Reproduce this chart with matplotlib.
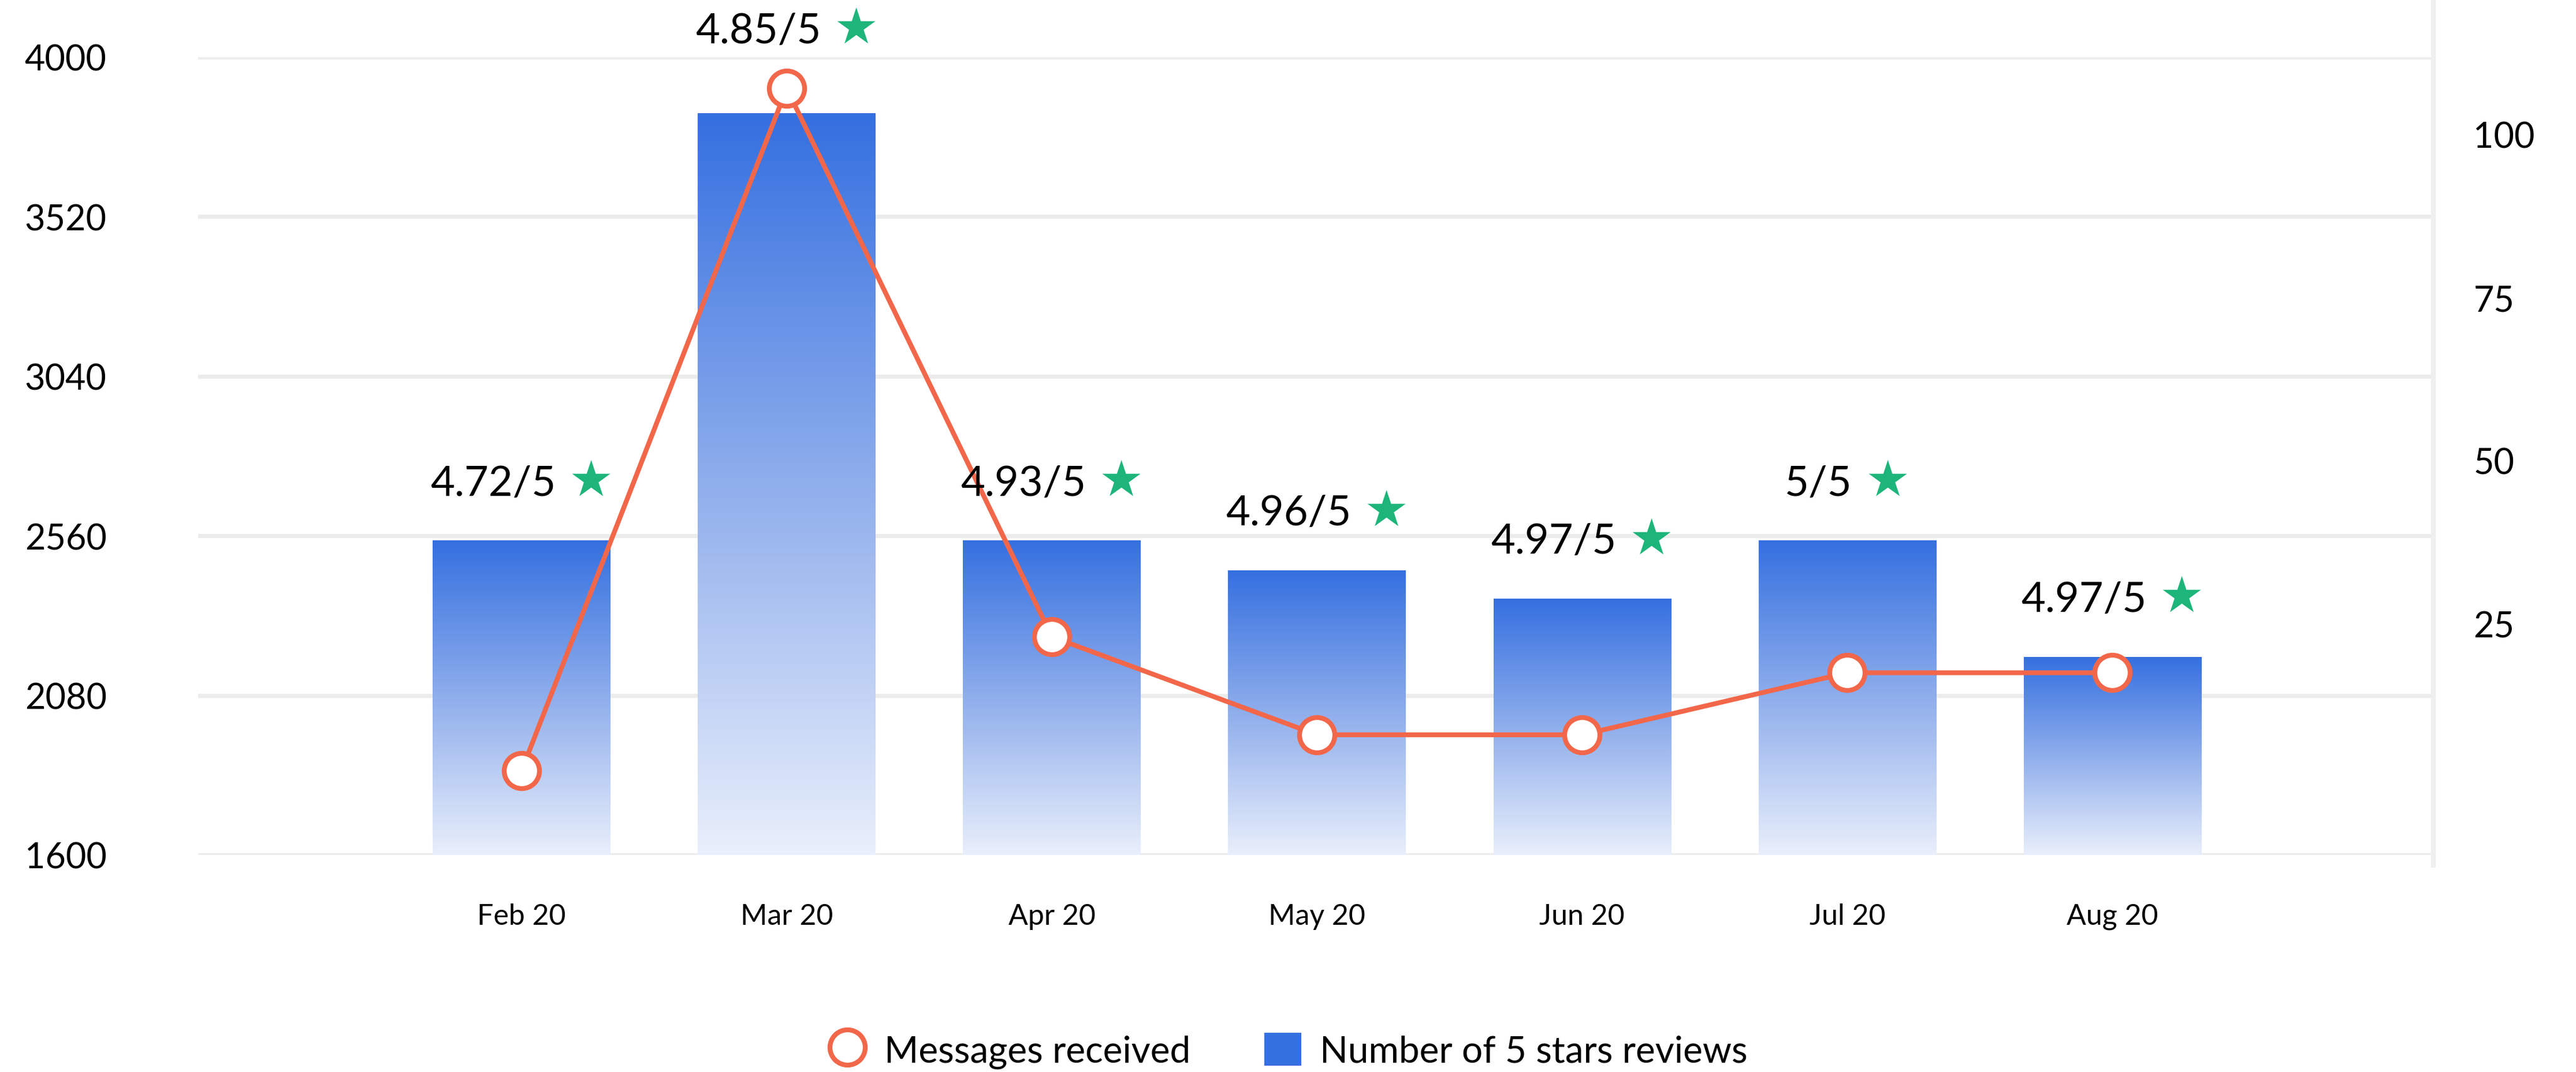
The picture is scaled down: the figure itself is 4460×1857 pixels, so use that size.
import numpy as np
import matplotlib
matplotlib.use('Agg')
import matplotlib.pyplot as plt
from matplotlib.colors import LinearSegmentedColormap
from matplotlib.lines import Line2D
from matplotlib.patches import Patch
from matplotlib.offsetbox import TextArea, HPacker, AnnotationBbox

plt.rcParams['font.family'] = ['Lato', 'DejaVu Sans']

# data
months = ['Feb 20', 'Mar 20', 'Apr 20', 'May 20', 'Jun 20', 'Jul 20', 'Aug 20']
reviews = [2545, 3830, 2545, 2455, 2370, 2545, 2195]
messages = [2.5, 107, 23, 8, 8, 17.5, 17.5]
ratings = ['4.72/5', '4.85/5', '4.93/5', '4.96/5', '4.97/5', '5/5', '4.97/5']

left_ticks = [1600, 2080, 2560, 3040, 3520, 4000]
right_ticks = [25, 50, 75, 100]

blue = '#3570E0'
orange = '#F2674A'
green = '#1DB57A'

fig = plt.figure(figsize=(22.3, 9.29), dpi=200)
ax = fig.add_axes([0.0769, 0.2024, 0.8677, 0.7438])
ax2 = ax.twinx()

x = np.arange(len(months))
ymin, ymax = left_ticks[0], left_ticks[-1]

# bars with vertical gradient (dark on top, light at the bottom)
cmap = LinearSegmentedColormap.from_list('bars', ['#E9EFFB', '#8FAEEC', blue])
bars = ax.bar(x, np.array(reviews) - ymin, bottom=ymin, width=0.67,
              color='none', edgecolor='none', zorder=2)
grad = np.linspace(0, 1, 256).reshape(-1, 1)
for b in bars:
    x0, y0, w, h = b.get_x(), b.get_y(), b.get_width(), b.get_height()
    ax.imshow(grad, extent=[x0, x0 + w, y0, y0 + h], origin='lower',
              cmap=cmap, aspect='auto', zorder=2, interpolation='bicubic')

ax.set_xlim(-1.22, 7.21)
ax.set_ylim(ymin, ymax)
ax.set_yticks(left_ticks)
ax.set_xticks(x)
ax.set_xticklabels(months)
ax.grid(axis='y', color='#ECECEC', linewidth=2.6)
ax.set_axisbelow(True)
ax.tick_params(axis='y', length=0, pad=57, labelsize=22)
ax.tick_params(axis='x', length=0, pad=30, labelsize=18)

# messages line on right axis
ax2.plot(x, messages, color=orange, linewidth=3, marker='o', markersize=22,
         markerfacecolor='white', markeredgecolor=orange, markeredgewidth=3,
         zorder=5)
ax2.set_ylim(-10.4, 111.8)
ax2.set_yticks(right_ticks)
ax2.tick_params(axis='y', length=0, pad=25, labelsize=22)

for a in (ax, ax2):
    for s in a.spines.values():
        s.set_visible(False)

# faint vertical separator on the right
ax.plot([1, 1], [-0.013, 1.072], transform=ax.transAxes, clip_on=False,
        color='#EFEFEF', linewidth=3, zorder=1)

# rating labels with a star above the higher of bar / marker
fig.canvas.draw()
for i in x:
    bar_y = ax.transData.transform((i, reviews[i]))[1]
    mark_y = ax2.transData.transform((i, messages[i]))[1]
    if mark_y > bar_y:
        anchor, trans = (i, messages[i]), ax2.transData
    else:
        anchor, trans = (i, reviews[i]), ax.transData
    txt = TextArea(ratings[i], textprops=dict(fontsize=26, color='black'))
    star = TextArea('★', textprops=dict(fontsize=31, color=green,
                                         family='DejaVu Sans'))
    box = HPacker(children=[txt, star], align='baseline', pad=0, sep=8)
    ab = AnnotationBbox(box, anchor, xycoords=trans, xybox=(0, 37),
                        boxcoords='offset points', box_alignment=(0.5, 0.5),
                        frameon=False, annotation_clip=False, zorder=6)
    ax2.add_artist(ab)

handles = [
    Line2D([], [], linestyle='none', marker='o', markersize=22,
           markerfacecolor='white', markeredgecolor=orange, markeredgewidth=3),
    Patch(facecolor=blue, edgecolor='none'),
]
fig.legend(handles, ['Messages received', 'Number of 5 stars reviews'],
           loc='center', bbox_to_anchor=(0.5, 0.02), ncol=2, frameon=False,
           fontsize=23, handlelength=1.0, handleheight=1.0,
           handletextpad=0.5, columnspacing=2.0)

fig.savefig('out.png', dpi=200)
